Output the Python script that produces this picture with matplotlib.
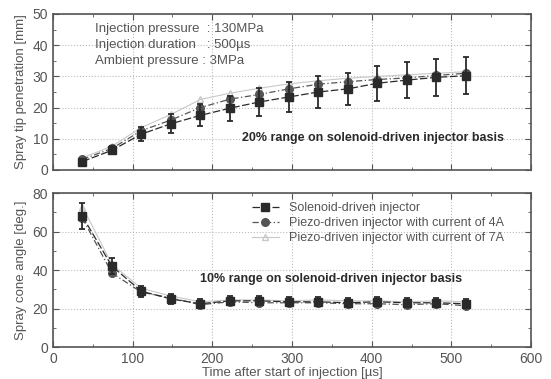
import numpy as np
import matplotlib
matplotlib.use("Agg")
import matplotlib.pyplot as plt
from matplotlib.ticker import MultipleLocator

plt.rcParams['font.family'] = ['Liberation Sans', 'DejaVu Sans']

# -- 데이터 ------------------------------------------------------
time_us = [37, 74, 111, 148, 185, 222, 259, 296, 333, 370, 407, 444, 481, 518]

tip_solenoid = [2.7, 6.3, 11.5, 14.8, 17.5, 19.8, 21.8, 23.4, 25.0, 26.0, 27.8, 28.8, 29.7, 30.2]
tip_piezo4a = [3.4, 6.9, 12.6, 16.0, 20.0, 22.7, 24.2, 26.0, 27.5, 28.3, 29.0, 29.5, 30.3, 31.0]
tip_piezo7a = [3.9, 7.6, 13.6, 17.8, 22.6, 24.6, 26.2, 27.6, 28.6, 29.4, 30.0, 30.5, 31.0, 31.5]
tip_err = [0.6, 1.3, 2.3, 3.0, 3.5, 4.0, 4.4, 4.7, 5.0, 5.2, 5.6, 5.8, 5.9, 6.0]

cone_solenoid = [68.0, 42.0, 29.0, 25.0, 22.5, 24.0, 24.0, 23.5, 23.5, 23.0, 23.5, 23.0, 23.0, 22.5]
cone_piezo4a = [67.0, 38.5, 28.5, 25.5, 22.0, 23.5, 23.0, 23.0, 23.0, 22.5, 22.5, 22.0, 22.5, 21.5]
cone_piezo7a = [73.0, 43.0, 30.5, 26.5, 23.5, 24.5, 24.5, 24.0, 24.5, 24.0, 24.0, 23.5, 24.0, 23.5]
cone_err = [6.8, 4.2, 2.9, 2.5, 2.3, 2.4, 2.4, 2.4, 2.4, 2.3, 2.4, 2.3, 2.3, 2.3]

labels = ["Solenoid-driven injector",
          "Piezo-driven injector with current of 4A",
          "Piezo-driven injector with current of 7A"]

ink = "#2a2a2a"
grey = "#555555"
light = "#c8c8c8"


def style_axes(ax, ymax, ystep):
    ax.set_xlim(0, 600)
    ax.set_ylim(0, ymax)
    ax.xaxis.set_major_locator(MultipleLocator(100))
    ax.xaxis.set_minor_locator(MultipleLocator(50))
    ax.yaxis.set_major_locator(MultipleLocator(ystep))
    ax.yaxis.set_minor_locator(MultipleLocator(ystep / 2))
    ax.tick_params(which="both", direction="in", top=True, right=True,
                   colors=grey, labelcolor=grey, labelsize=10)
    ax.tick_params(which="major", length=4)
    ax.tick_params(which="minor", length=2)
    ax.grid(True, which="major", color="#bbbbbb", linestyle=":", linewidth=0.8)
    for s in ax.spines.values():
        s.set_color(grey)
        s.set_linewidth(1.2)


def draw_series(ax, sol, p4, p7, err):
    ax.plot(time_us, p7, color=light, marker="^", markersize=4, linewidth=0.8,
            linestyle="-", mfc="none", label=labels[2])
    ax.plot(time_us, p4, color=grey, marker="o", markersize=5.5, linewidth=0.9,
            linestyle=(0, (5, 2, 1, 2)), label=labels[1])
    ax.errorbar(time_us, sol, yerr=err, fmt="none", ecolor=ink, elinewidth=1.3,
                capsize=2.5, capthick=1.3)
    ax.plot(time_us, sol, color=ink, marker="s", markersize=6, linewidth=0.9,
            linestyle=(0, (6, 2)), label=labels[0])


fig = plt.figure(figsize=(5.51, 3.79), dpi=100)
ax1 = fig.add_axes([0.096, 0.5515, 0.868, 0.4116])
ax2 = fig.add_axes([0.096, 0.0844, 0.868, 0.406])

# -- 위: 분무 도달거리 --------------------------------------------------
draw_series(ax1, tip_solenoid, tip_piezo4a, tip_piezo7a, tip_err)
style_axes(ax1, 50, 10)
ax1.tick_params(labelbottom=False)
ax1.set_ylabel("Spray tip penetration [mm]", color=grey, fontsize=9.5, labelpad=4)
ax1.text(53, 45.2, "Injection pressure  : 130MPa", color=grey, fontsize=9.5, va="center")
ax1.text(53, 40.0, "Injection duration   : 500\u00b5s", color=grey, fontsize=9.5, va="center")
ax1.text(53, 34.8, "Ambient pressure : 3MPa", color=grey, fontsize=9.5, va="center")
ax1.text(237, 10.2, "20% range on solenoid-driven injector basis", color=ink,
         fontsize=9, fontweight="bold", va="center")

# -- 아래: 분무 각 ------------------------------------------------------
draw_series(ax2, cone_solenoid, cone_piezo4a, cone_piezo7a, cone_err)
style_axes(ax2, 80, 20)
ax2.set_ylabel("Spray cone angle [deg.]", color=grey, fontsize=9.5, labelpad=4)
ax2.set_xlabel("Time after start of injection [\u00b5s]", color=grey, fontsize=9.5, labelpad=1)
ax2.text(185, 35.3, "10% range on solenoid-driven injector basis", color=ink,
         fontsize=9, fontweight="bold", va="center")

h, l = ax2.get_legend_handles_labels()
order = [2, 1, 0]
leg = ax2.legend([h[i] for i in order], [l[i] for i in order], loc="upper left",
                 bbox_to_anchor=(0.40, 0.99), frameon=False, fontsize=9,
                 handlelength=2.2, labelspacing=0.25, borderaxespad=0.2)
for t in leg.get_texts():
    t.set_color(grey)

fig.savefig("out.png", dpi=100)
